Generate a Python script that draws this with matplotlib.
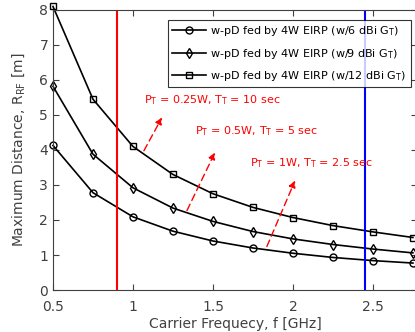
import numpy as np
import matplotlib
matplotlib.use('Agg')
import matplotlib.pyplot as plt

# carrier frequency [GHz]
freq = [0.5, 0.75, 1.0, 1.25, 1.5, 1.75, 2.0, 2.25, 2.5, 2.75]

# max distance [m] for each antenna gain
r_6dbi = [4.13, 2.78, 2.09, 1.68, 1.40, 1.20, 1.05, 0.93, 0.84, 0.77]
r_9dbi = [5.82, 3.88, 2.92, 2.34, 1.96, 1.67, 1.46, 1.30, 1.17, 1.06]
r_12dbi = [8.10, 5.45, 4.10, 3.30, 2.75, 2.36, 2.07, 1.84, 1.66, 1.50]

labels = ['w-pD fed by 4W EIRP (w/6 dBi G$_{\\mathrm{T}}$)',
          'w-pD fed by 4W EIRP (w/9 dBi G$_{\\mathrm{T}}$)',
          'w-pD fed by 4W EIRP (w/12 dBi G$_{\\mathrm{T}}$)']

# ISM bands
f_ism = [0.9, 2.45]

# annotations: text, text pos, arrow tail, arrow head
notes = ['P$_{\\mathrm{T}}$ = 0.25W, T$_{\\mathrm{T}}$ = 10 sec',
         'P$_{\\mathrm{T}}$ = 0.5W, T$_{\\mathrm{T}}$ = 5 sec',
         'P$_{\\mathrm{T}}$ = 1W, T$_{\\mathrm{T}}$ = 2.5 sec']
note_xy = [(1.07, 5.43), (1.39, 4.54), (1.73, 3.63)]
arrow_tail = [(1.06, 3.91), (1.33, 2.2), (1.83, 1.17)]
arrow_head = [(1.19, 5.0), (1.52, 4.0), (2.02, 3.2)]

gray = '#404040'

fig = plt.figure(figsize=(4.15, 3.32), dpi=100)
ax = fig.add_axes([0.1277, 0.1265, 0.877, 0.8434])

markers = ['o', 'd', 's']
for r, m, lab in zip([r_6dbi, r_9dbi, r_12dbi], markers, labels):
    ax.plot(freq, r, color='black', lw=1.2, marker=m, ms=5,
            mfc='none', mec='black', mew=1.0, label=lab, clip_on=False)

ax.axvline(f_ism[0], color='red', lw=1.5)
ax.axvline(f_ism[1], color='blue', lw=1.5)

for t, xy, a, b in zip(notes, note_xy, arrow_tail, arrow_head):
    ax.text(xy[0], xy[1], t, color='red', fontsize=8, va='center', ha='left')
    ax.annotate('', xy=b, xytext=a,
                arrowprops=dict(arrowstyle='-|>', color='red', lw=1.0,
                                ls=(0, (5, 3)), mutation_scale=10))

ax.set_xlim(0.5, 2.775)
ax.set_ylim(0, 8)
ax.set_xticks([0.5, 1, 1.5, 2, 2.5])
ax.set_xticklabels(['0.5', '1', '1.5', '2', '2.5'])
ax.set_yticks(range(0, 9))
ax.tick_params(direction='in', top=True, right=True, colors=gray,
               labelsize=10, length=4)
ax.tick_params(axis='x', pad=7)
for s in ax.spines.values():
    s.set_color(gray)

ax.set_xlabel('Carrier Frequecy, f [GHz]', color=gray, fontsize=10, labelpad=2)
ax.set_ylabel('Maximum Distance, R$_{\\mathrm{RF}}$ [m]', color=gray,
              fontsize=10, labelpad=9)

leg = ax.legend(loc='upper left', bbox_to_anchor=(0.3, 0.985), fontsize=8,
                frameon=True, fancybox=False, edgecolor='black',
                handlelength=3.0, borderpad=0.4, labelspacing=0.75,
                handletextpad=0.4)
leg.get_frame().set_linewidth(0.8)

fig.savefig('out.png', dpi=100)
